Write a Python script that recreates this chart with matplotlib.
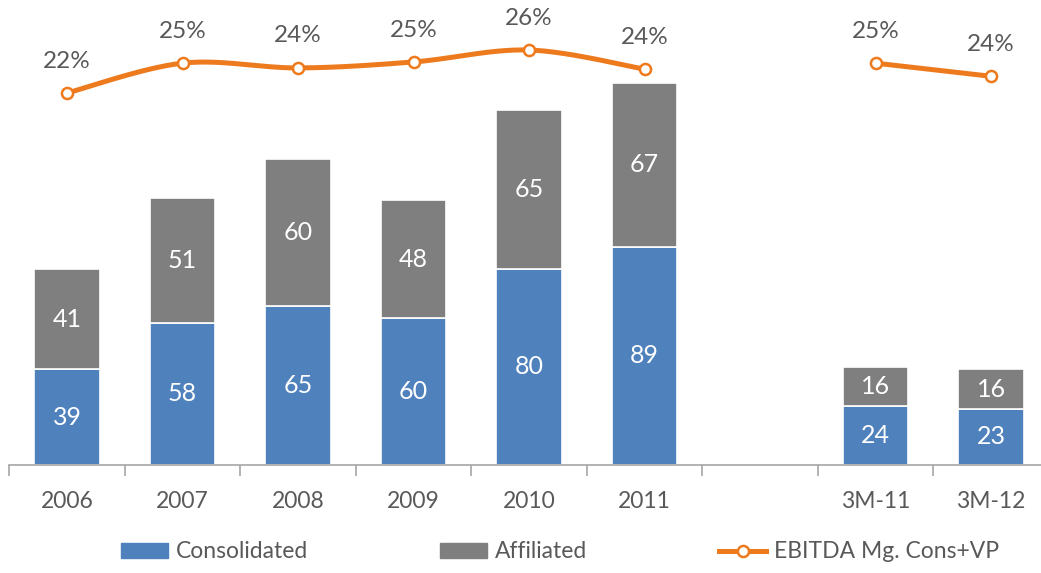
import numpy as np
import matplotlib
matplotlib.use("Agg")
import matplotlib.pyplot as plt
from matplotlib.lines import Line2D
from matplotlib.patches import Patch

categories = ["2006", "2007", "2008", "2009", "2010", "2011", "", "3M-11", "3M-12"]
consolidated = [39, 58, 65, 60, 80, 89, None, 24, 23]
affiliated = [41, 51, 60, 48, 65, 67, None, 16, 16]
ebitda_margin = [22.3, 24.8, 24.4, 24.9, 25.9, 24.3, None, 24.8, 23.7]

BLUE = "#4F81BD"
GRAY = "#7F7F7F"
ORANGE = "#EE7A1E"
TXT = "#595959"

plt.rcParams['font.family'] = ['Lato', 'DejaVu Sans']

W, H = 1041, 573
fig = plt.figure(figsize=(W / 100, H / 100), dpi=100)
left_px, base_px, top_px = 9.3, 465, 10
cat_w = 115.5
ax = fig.add_axes([left_px / W, (H - base_px) / H, 9 * cat_w / W, (base_px - top_px) / H])
ax2 = ax.twinx()

x = np.arange(len(categories))
bw = 0.57
px_per_unit = 2.45
ax.set_ylim(0, (base_px - top_px) / px_per_unit)
ax.set_xlim(-0.5, len(categories) - 0.5)

for i in range(len(categories)):
    c, a = consolidated[i], affiliated[i]
    if c is None:
        continue
    ax.bar(x[i], c, bw, color=BLUE, edgecolor="white", linewidth=1.2, zorder=2)
    ax.bar(x[i], a, bw, bottom=c, color=GRAY, edgecolor="white", linewidth=1.2, zorder=2)
    ax.text(x[i], c / 2, f"{c}", ha="center", va="center", color="white", fontsize=18, zorder=3)
    ax.text(x[i], c + a / 2, f"{a}", ha="center", va="center", color="white", fontsize=18, zorder=3)

# secondary axis mapping (percent)
pct_px = 11.94
ref_v, ref_y = 22.3, 93
ax2.set_ylim(ref_v - (base_px - ref_y) / pct_px, ref_v + (ref_y - top_px) / pct_px)


def smooth(xs, ys, n=30):
    # Catmull-Rom style Bezier smoothing in pixel-like space
    P = np.column_stack([np.array(xs, float) * cat_w, np.array(ys, float) * pct_px])
    if len(P) < 3:
        return P[:, 0] / cat_w, P[:, 1] / pct_px
    out = []
    for i in range(len(P) - 1):
        p0 = P[i - 1] if i > 0 else P[i]
        p1, p2 = P[i], P[i + 1]
        p3 = P[i + 2] if i + 2 < len(P) else P[i + 1]
        c1 = p1 + (p2 - p0) / 6
        c2 = p2 - (p3 - p1) / 6
        t = np.linspace(0, 1, n)[:, None]
        seg = (1 - t) ** 3 * p1 + 3 * (1 - t) ** 2 * t * c1 + 3 * (1 - t) * t ** 2 * c2 + t ** 3 * p2
        out.append(seg if i == 0 else seg[1:])
    out = np.vstack(out)
    return out[:, 0] / cat_w, out[:, 1] / pct_px


groups, cur = [], []
for i, v in enumerate(ebitda_margin):
    if v is None:
        if cur:
            groups.append(cur)
        cur = []
    else:
        cur.append(i)
if cur:
    groups.append(cur)

for g in groups:
    xs = [x[i] for i in g]
    ys = [ebitda_margin[i] for i in g]
    sx, sy = smooth(xs, ys)
    ax2.plot(sx, sy, color=ORANGE, lw=3.6, solid_capstyle="round", zorder=4)
    ax2.plot(xs, ys, ls="none", marker="o", ms=8, mfc="white", mec=ORANGE, mew=1.8, zorder=5)
    for xi, yi in zip(xs, ys):
        ax2.annotate(f"{yi:.0f}%", (xi, yi), xytext=(0, 23), textcoords="offset points",
                     ha="center", va="center", fontsize=17.5, color=TXT)

for a in (ax, ax2):
    for s in a.spines.values():
        s.set_visible(False)
    a.set_yticks([])
ax.spines["bottom"].set_visible(True)
ax.spines["bottom"].set_color("#A6A6A6")
ax.spines["bottom"].set_linewidth(1.2)

ax.set_xticks(np.arange(-0.5, len(categories)), labels=[""] * (len(categories) + 1))
ax.tick_params(axis="x", which="major", length=8, color="#A6A6A6", width=1.2, direction="out")
ax.set_xticks(x, labels=categories, minor=True)
ax.tick_params(axis="x", which="minor", length=0, pad=19, labelsize=16.5, labelcolor=TXT)

handles = [
    Patch(facecolor=BLUE, edgecolor=BLUE),
    Patch(facecolor=GRAY, edgecolor=GRAY),
    Line2D([0], [0], color=ORANGE, lw=3.6, marker="o", ms=8, mfc="white", mec=ORANGE, mew=1.8),
]
fig.legend(handles, ["Consolidated", "Affiliated", "EBITDA Mg. Cons+VP"], loc="center",
           bbox_to_anchor=(0.538, 1 - 552 / H), ncol=3, frameon=False, fontsize=16.5,
           labelcolor=TXT, handlelength=2.05, handleheight=0.65, handletextpad=0.35,
           columnspacing=5.75, numpoints=1)

fig.savefig("out.png", dpi=100)
